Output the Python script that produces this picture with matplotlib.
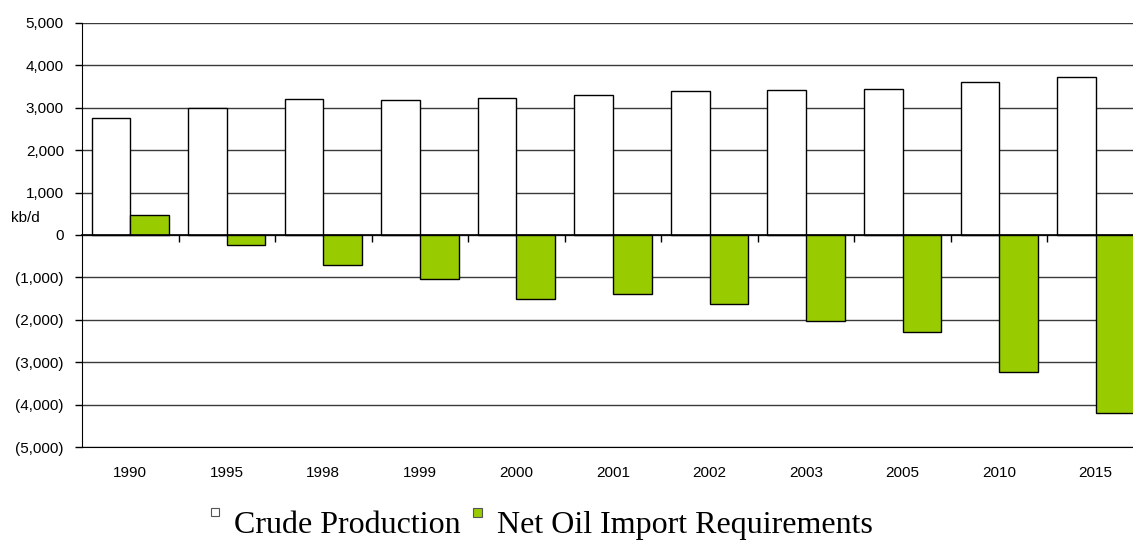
#!/usr/bin/env python

import matplotlib
matplotlib.use('Agg')
import matplotlib.pyplot as plt
from matplotlib.patches import Rectangle
from matplotlib.ticker import FuncFormatter, NullFormatter
import numpy as np

# data (kb/d)
years = ['1990', '1995', '1998', '1999', '2000', '2001', '2002', '2003',
         '2005', '2010', '2015']
crude_production = [2760, 3000, 3200, 3190, 3240, 3300, 3390, 3410,
                     3450, 3600, 3720]
net_imports = [460, -230, -710, -1045, -1500, -1400, -1630, -2030,
               -2290, -3240, -4190]

series_names = ['Crude Production', 'Net Oil Import Requirements']
green = '#99CC00'


def fmt_kbd(v, pos):
    if v < 0:
        return '({:,.0f})'.format(-v)
    return '{:,.0f}'.format(v)


def main():
    plt.rcParams['font.family'] = ['Liberation Sans', 'DejaVu Sans']

    fig = plt.figure(figsize=(11.33, 5.40), dpi=100)
    # axes runs a bit past the right edge, as in the original
    ax = fig.add_axes([82 / 1133, 1 - 447 / 540, 1062 / 1133, 424 / 540])

    x = np.arange(len(years))
    w = 0.4

    ax.bar(x - w / 2, crude_production, w, color='white',
           edgecolor='black', linewidth=1, zorder=3)
    ax.bar(x + w / 2, net_imports, w, color=green,
           edgecolor='black', linewidth=1, zorder=3)

    ax.set_xlim(-0.5, len(years) - 0.5)
    ax.set_ylim(-5000, 5000)
    ax.set_yticks(np.arange(-5000, 5001, 1000))
    ax.yaxis.set_major_formatter(FuncFormatter(fmt_kbd))
    ax.yaxis.grid(True, color='#3a3a3a', linewidth=1, zorder=0)
    ax.set_axisbelow(True)

    ax.set_xticks(x)
    ax.set_xticklabels(years)
    ax.tick_params(axis='x', length=0, pad=14, labelsize=11)
    ax.tick_params(axis='y', direction='out', length=5, width=1,
                   pad=8, labelsize=11)

    for s in ['top', 'right']:
        ax.spines[s].set_visible(False)
    ax.spines['left'].set_color('black')
    ax.spines['bottom'].set_color('black')

    # zero axis with ticks between categories (pointing down)
    zax = ax.secondary_xaxis(0.5)
    zax.set_xticks(np.arange(0.5, len(years) - 0.5, 1.0))
    zax.xaxis.set_major_formatter(NullFormatter())
    zax.tick_params(direction='in', length=5, width=1,
                    labelbottom=False, labeltop=False)
    zax.spines['bottom'].set_linewidth(1.2)
    zax.spines['top'].set_linewidth(1.2)
    zax.set_zorder(4)

    fig.text(11 / 1133, 1 - 218 / 540, 'kb/d', fontsize=11,
             ha='left', va='center')

    # legend along the bottom
    leg_font = 'Liberation Serif'
    fig.patches.append(Rectangle((211 / 1133, 1 - 516 / 540), 8 / 1133,
                                 8 / 540, transform=fig.transFigure,
                                 facecolor='white', edgecolor='#555555',
                                 linewidth=0.8))
    fig.text(234 / 1133, 1 - 533 / 540, series_names[0], fontsize=23,
             family=leg_font, ha='left', va='baseline')
    fig.patches.append(Rectangle((473 / 1133, 1 - 517 / 540), 9 / 1133,
                                 9 / 540, transform=fig.transFigure,
                                 facecolor=green, edgecolor='#555555',
                                 linewidth=0.8))
    fig.text(497 / 1133, 1 - 533 / 540, series_names[1], fontsize=23,
             family=leg_font, ha='left', va='baseline')

    fig.savefig('out.png', dpi=100)


if __name__ == '__main__':
    main()
